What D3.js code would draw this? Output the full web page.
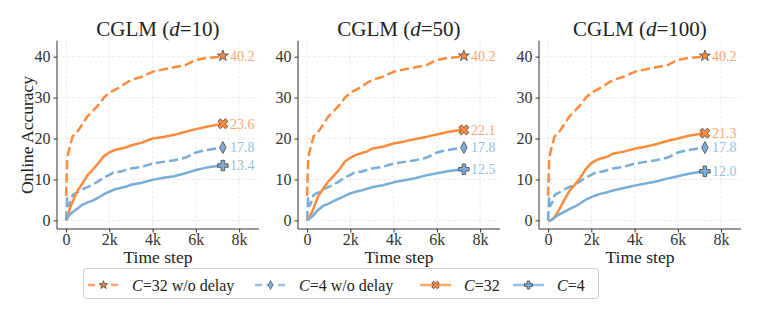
<!DOCTYPE html>
<html>
<head>
<meta charset="utf-8">
<script src="https://cdn.jsdelivr.net/npm/d3@7"></script>
<style>
  body { margin: 0; background: #fff; }
  svg, svg text { font-family: "Liberation Serif", "Times New Roman", serif; }
  text { fill: #222; }
</style>
</head>
<body>
<svg id="chart" width="761" height="310" font-family="Liberation Serif"></svg>
<script>
// time steps shared by every curve
var steps = [0, 50, 100, 200, 300, 500, 750, 1000, 1250, 1500, 1750, 2000, 2250, 2500, 2750, 3000, 3500, 4000, 4500, 5000, 5500, 6000, 6500, 7000, 7250];

// C=32 w/o delay (same in each panel)
var c32NoDelay = [6, 15, 16.5, 18.5, 20.5, 21.5, 23.5, 25.5, 26.8, 28.2, 30, 31.2, 31.9, 32.6, 33.5, 34.3, 35.1, 36.3, 36.9, 37.4, 37.9, 39.2, 39.7, 39.9, 40.2];
// C=4 w/o delay (same in each panel)
var c4NoDelay = [0, 5.4, 3.5, 4.5, 6.2, 6.8, 7.6, 8.2, 8.8, 9.6, 10.5, 11.1, 11.9, 11.9, 12.3, 12.7, 13.1, 13.9, 14.3, 14.7, 15.3, 16.6, 17.2, 17.6, 17.8];

// C=32 with delay, one per d
var c32_d10  = [0, 0.8, 1.5, 3.3, 4.5, 7, 9, 11.1, 12.5, 14, 15.7, 16.6, 17.2, 17.5, 17.8, 18.3, 19, 20, 20.4, 20.9, 21.6, 22.3, 22.9, 23.4, 23.6];
var c32_d50  = [0, 0.5, 1, 1.7, 3, 5.8, 7.8, 9.6, 11, 12.5, 14.4, 15.3, 16, 16.4, 16.8, 17.5, 18, 18.8, 19.3, 19.9, 20.4, 21, 21.6, 22, 22.1];
var c32_d100 = [0, 0, 0, 0.2, 0.8, 2.5, 5, 7.3, 8.8, 10.5, 12.6, 14, 14.8, 15.2, 15.6, 16.3, 16.8, 17.5, 18, 18.6, 19.4, 20, 20.7, 21.1, 21.3];

// C=4 with delay, one per d
var c4_d10  = [0, 0.5, 1, 1.6, 2, 2.8, 3.8, 4.4, 4.9, 5.6, 6.4, 7, 7.6, 7.9, 8.2, 8.7, 9.2, 9.9, 10.4, 10.8, 11.5, 12.3, 12.9, 13.3, 13.4];
var c4_d50  = [0, 0.2, 0.4, 0.8, 1.3, 2.5, 3.6, 4.1, 4.8, 5.4, 6, 6.6, 7, 7.3, 7.7, 8.1, 8.6, 9.3, 9.8, 10.3, 11, 11.5, 12, 12.4, 12.5];
var c4_d100 = [0, 0, 0, 0.3, 0.7, 1.4, 2.1, 2.8, 3.4, 4.2, 5.1, 5.7, 6.2, 6.6, 6.9, 7.3, 7.9, 8.5, 9, 9.5, 10.2, 10.8, 11.4, 11.8, 12.0];

var dValues = [10, 50, 100];
var xTicks = [0, 2000, 4000, 6000, 8000];
var xTickLabels = ["0", "2k", "4k", "6k", "8k"];
var yTicks = [0, 10, 20, 30, 40];

var orange = "#fd8b3d", blue = "#79acd6";
var orangeText = "#fca66a", blueText = "#93bfe2";
var FONT = "Liberation Serif";

var series = [
  { name: "32 w/o delay", color: orange, text: orangeText, dash: "9.25,4", marker: "star" },
  { name: "4 w/o delay", color: blue, text: blueText, dash: "9.25,4", marker: "diamond" },
  { name: "32", color: orange, text: orangeText, dash: null, marker: "x" },
  { name: "4", color: blue, text: blueText, dash: null, marker: "plus" }
];
var panelData = [
  [c32NoDelay, c4NoDelay, c32_d10, c4_d10],
  [c32NoDelay, c4NoDelay, c32_d50, c4_d50],
  [c32NoDelay, c4NoDelay, c32_d100, c4_d100]
];

var svg = d3.select("#chart");
var W = 202, H = 188.3, topY = 40.7;
var lefts = [57, 298, 539];

var x = d3.scaleLinear().domain([-420, 8920]).range([0, W]);
var y = d3.scaleLinear().domain([-2.1, 43.9]).range([H, 0]);

function drawMarker(g, type, cx, cy, color, s) {
  s = s || 1;
  var p;
  if (type == "star") {
    p = g.append("path").attr("d", d3.symbol(d3.symbolStar, 38 * s * s)())
      .attr("transform", "translate(" + cx + "," + cy + ")");
  } else if (type == "diamond") {
    p = g.append("path").attr("d", "M0,-6L3.3,0L0,6L-3.3,0Z")
      .attr("transform", "translate(" + cx + "," + cy + ") scale(" + s + ")");
  } else if (type == "x") {
    p = g.append("path").attr("d", d3.symbol(d3.symbolCross, 62 * s * s)())
      .attr("transform", "translate(" + cx + "," + cy + ") rotate(45)");
  } else {
    p = g.append("path").attr("d", d3.symbol(d3.symbolCross, 62 * s * s)())
      .attr("transform", "translate(" + cx + "," + cy + ")");
  }
  p.attr("fill", color).attr("stroke", "#444").attr("stroke-width", 0.8);
}

panelData.forEach(function(data, pi) {
  var g = svg.append("g").attr("transform", "translate(" + lefts[pi] + "," + topY + ")");

  // grid
  g.selectAll(".gx").data(xTicks).enter().append("line")
    .attr("x1", d => x(d)).attr("x2", d => x(d)).attr("y1", 0).attr("y2", H)
    .attr("stroke", "#e2e2e2").attr("stroke-width", 0.7).attr("stroke-dasharray", "3,2");
  g.selectAll(".gy").data(yTicks).enter().append("line")
    .attr("y1", d => y(d)).attr("y2", d => y(d)).attr("x1", 0).attr("x2", W)
    .attr("stroke", "#e2e2e2").attr("stroke-width", 0.7).attr("stroke-dasharray", "3,2");

  // axes
  var xa = g.append("g").attr("transform", "translate(0," + H + ")")
    .call(d3.axisBottom(x).tickValues(xTicks).tickFormat((d, i) => xTickLabels[i]).tickSize(3.5).tickPadding(1.5));
  var ya = g.append("g")
    .call(d3.axisLeft(y).tickValues(yTicks).tickSize(3.5).tickPadding(3));
  [xa, ya].forEach(function(a) {
    a.attr("font-family", FONT).attr("font-size", 16);
    a.select(".domain").attr("stroke", "#333").attr("stroke-width", 1);
    a.selectAll(".tick line").attr("stroke", "#333");
    a.selectAll(".tick text").attr("font-family", FONT).style("font-family", FONT)
      .style("font-size", "16px").style("fill", "#333");
  });
  xa.select(".domain").attr("d", "M0,0H" + W);
  ya.select(".domain").attr("d", "M0," + H + "V0");

  // lines
  var line = d3.line().x((d, i) => x(steps[i])).y(d => y(d));
  data.forEach(function(vals, si) {
    var s = series[si];
    g.append("path").datum(vals)
      .attr("fill", "none").attr("stroke", s.color).attr("stroke-width", 2.5)
      .attr("stroke-dasharray", s.dash).attr("stroke-linejoin", "round")
      .attr("d", line);
  });
  data.forEach(function(vals, si) {
    var s = series[si];
    var last = vals[vals.length - 1];
    var cx = x(steps[steps.length - 1]), cy = y(last);
    drawMarker(g, s.marker, cx, cy, s.color);
    g.append("text").attr("x", cx + 7).attr("y", cy).attr("dy", "0.34em")
      .style("font-size", "14px").style("fill", s.text).text(last.toFixed(1));
  });

  // title
  var t = g.append("text").attr("x", W / 2).attr("y", 36 - topY).attr("text-anchor", "middle")
    .style("font-size", "21px");
  t.append("tspan").text("CGLM (");
  t.append("tspan").style("font-style", "italic").text("d");
  t.append("tspan").text("=" + dValues[pi] + ")");

  g.append("text").attr("x", W / 2).attr("y", 263 - topY).attr("text-anchor", "middle")
    .style("font-size", "17.5px").text("Time step");
});

svg.append("text").attr("transform", "translate(33,135) rotate(-90)")
  .attr("text-anchor", "middle").style("font-size", "17.5px").text("Online Accuracy");

// legend
var lg = svg.append("g");
lg.append("rect").attr("x", 83.5).attr("y", 268.5).attr("width", 515).attr("height", 30)
  .attr("rx", 3).attr("fill", "#fff").attr("stroke", "#ccc").attr("stroke-width", 1);
var legX = [88, 255, 420, 513];
series.forEach(function(s, i) {
  var lx = legX[i], ly = 285;
  lg.append("line").attr("x1", lx).attr("x2", lx + 31).attr("y1", ly).attr("y2", ly)
    .attr("stroke", s.color).attr("stroke-opacity", 0.75).attr("stroke-width", 2.5)
    .attr("stroke-dasharray", s.dash ? "7,4.5" : null);
  drawMarker(lg, s.marker, lx + 15.5, ly, s.color, 0.75);
  var t = lg.append("text").attr("x", lx + 44).attr("y", ly).attr("dy", "0.35em").style("font-size", "16px");
  t.append("tspan").style("font-style", "italic").text("C");
  t.append("tspan").text("=" + s.name);
});
</script>
</body>
</html>
